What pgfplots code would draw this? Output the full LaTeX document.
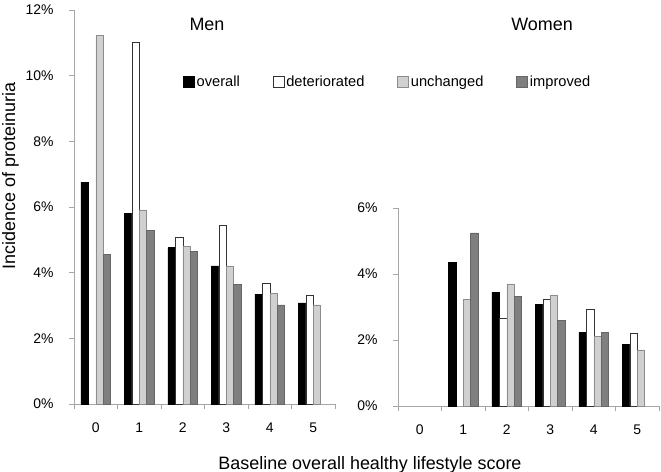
\documentclass[border=0pt]{standalone}
\usepackage{fontspec}
\setmainfont{Liberation Sans}
\usepackage{pgfplots}
\pgfplotsset{compat=1.18}
\definecolor{lg}{HTML}{D0D0D0}
\definecolor{dg}{HTML}{7F7F7F}
\definecolor{axisgray}{HTML}{A6A6A6}
\pgfplotsset{
 panel/.style={
  scale only axis, width=261bp,
  xmin=-0.5, xmax=5.5, ymin=0,
  axis lines=left, axis line style={-, draw=axisgray, line width=0.8bp},
  ybar=0pt, bar width=7.4bp,
  xtick={0,...,5}, xticklabels={0,1,2,3,4,5},
  minor xtick={-0.5,0.5,...,5.5},
  tick align=outside,
  every major x tick/.append style={draw=none},
  minor tick length=5bp, major tick length=5bp,
  tick style={draw=axisgray, line width=0.8bp},
  ticklabel style={font=\fontsize{14}{16}\selectfont},
  xticklabel style={yshift=-10bp},
  yticklabel style={xshift=-12bp},
  clip=false,
 },
 ov/.style={fill=black, draw=black, line width=0.5bp},
 de/.style={fill=white, draw=black!80, line width=0.5bp},
 un/.style={fill=lg, draw=black!45, line width=0.5bp},
 im/.style={fill=dg, draw=black!60, line width=0.5bp},
}
\begin{document}
\begin{tikzpicture}
\path[use as bounding box] (0,0) rectangle (661bp,472bp);
\begin{axis}[panel, at={(74bp,68bp)}, anchor=south west, height=394bp, ymax=12,
  ytick={0,2,...,12}, yticklabels={0\%,2\%,4\%,6\%,8\%,10\%,12\%},
  legend image code/.code={\draw[#1] (0bp,-5.5bp) rectangle (11bp,5.5bp);},
  legend cell align=left,
  legend style={at={(axis description cs:0.4176,0.817)}, anchor=west, draw=none, fill=none,
    inner sep=0pt, legend columns=4, font=\fontsize{14.7}{17}\selectfont,
    /tikz/every even column/.append style={column sep=31bp}}]
 \addplot[ov] coordinates {(0,6.76)(1,5.81)(2,4.76)(3,4.21)(4,3.35)(5,3.08)};
 \addplot[de] coordinates {(1,11.02)(2,5.09)(3,5.45)(4,3.69)(5,3.32)};
 \addplot[un] coordinates {(0,11.22)(1,5.91)(2,4.81)(3,4.19)(4,3.37)(5,3.02)};
 \addplot[im] coordinates {(0,4.55)(1,5.28)(2,4.64)(3,3.64)(4,3.02)};
 \legend{overall,deteriorated,unchanged,improved}
\end{axis}
\begin{axis}[panel, at={(398bp,66bp)}, anchor=south west, height=198bp, ymax=6,
  ytick={0,2,4,6}, yticklabels={0\%,2\%,4\%,6\%}]
 \addplot[ov] coordinates {(1,4.36)(2,3.45)(3,3.07)(4,2.22)(5,1.86)};
 \addplot[de] coordinates {(2,2.65)(3,3.23)(4,2.92)(5,2.19)};
 \addplot[un] coordinates {(1,3.23)(2,3.70)(3,3.37)(4,2.10)(5,1.70)};
 \addplot[im] coordinates {(1,5.25)(2,3.33)(3,2.60)(4,2.24)};
\end{axis}
\node[font=\fontsize{18}{20}\selectfont] at (207bp,448bp) {Men};
\node[font=\fontsize{18}{20}\selectfont] at (542bp,448bp) {Women};
\node[font=\fontsize{18}{20}\selectfont, anchor=base] at (370bp,3bp) {Baseline overall healthy lifestyle score};
\node[font=\fontsize{18}{20}\selectfont, rotate=90] at (10.5bp,296bp) {Incidence of proteinuria};
\end{tikzpicture}
\end{document}
